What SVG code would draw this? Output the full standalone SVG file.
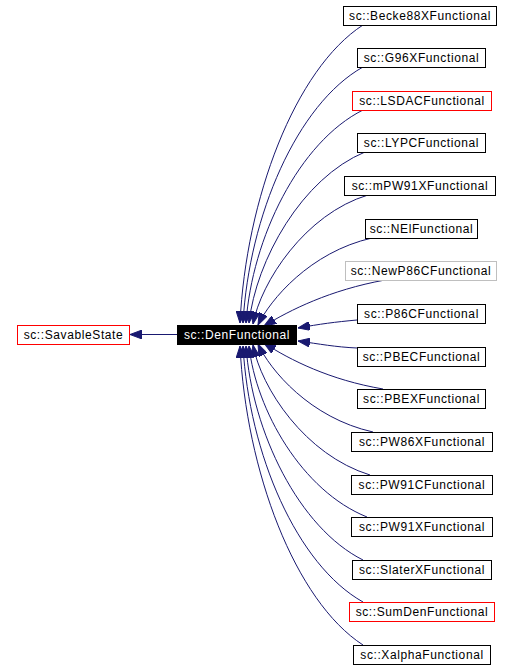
<svg xmlns="http://www.w3.org/2000/svg" width="516" height="670" viewBox="0 0 516 670">
<style>
.bx{fill:#fff;stroke:#000;stroke-width:1}
.red{stroke:#ff0000}
.grey{stroke:#bfbfbf}
.blk{fill:#000;stroke:#000}
text{font-family:"Liberation Sans",Arial,sans-serif;font-size:12px;letter-spacing:0.6px;text-anchor:middle;fill:#000}
.wt{fill:#fff}
.e{fill:none;stroke:#191970;stroke-width:1}
</style>
<defs>
<marker id="ah" viewBox="0 0 12 9" markerWidth="12" markerHeight="9" markerUnits="userSpaceOnUse" refX="12" refY="4.5" orient="auto">
<path d="M0,0 L12,4.5 L0,9 z" fill="#191970" stroke="#191970"/>
</marker>
</defs>
<g id="edges">
<path class="e" marker-end="url(#ah)" d="M177,334.5 L130,334.5"/>
<path class="e" marker-end="url(#ah)" d="M363,25 C295,69 246,199 240,323"/>
<path class="e" marker-end="url(#ah)" d="M363,67 C297,104 249,216 243,323"/>
<path class="e" marker-end="url(#ah)" d="M363,110 C299,142 252,238 246,323"/>
<path class="e" marker-end="url(#ah)" d="M365,152 C302,178 256,260 249,323"/>
<path class="e" marker-end="url(#ah)" d="M368,195 C305,214 261,282 253,324"/>
<path class="e" marker-end="url(#ah)" d="M372,238 C310,252 270,300 258,325"/>
<path class="e" marker-end="url(#ah)" d="M385,280 C330,290 290,310 264,326"/>
<path class="e" marker-end="url(#ah)" d="M357,320 C335,322 320,324 298,328"/>
<path class="e" marker-end="url(#ah)" d="M357,348 C335,347 320,344 298,341"/>
<path class="e" marker-end="url(#ah)" d="M383,389 C330,380 290,360 264,343"/>
<path class="e" marker-end="url(#ah)" d="M373,432 C310,418 270,370 258,344"/>
<path class="e" marker-end="url(#ah)" d="M370,475 C305,455 261,388 253,345"/>
<path class="e" marker-end="url(#ah)" d="M367,517 C302,491 256,410 249,346"/>
<path class="e" marker-end="url(#ah)" d="M363,560 C299,528 252,432 246,346"/>
<path class="e" marker-end="url(#ah)" d="M363,602 C297,565 249,454 243,346"/>
<path class="e" marker-end="url(#ah)" d="M363,645 C295,601 246,471 240,346"/>
</g>
<g id="SavableState"><rect class="bx red" x="17.5" y="325.5" width="112" height="19"/><text x="73.5" y="339">sc::SavableState</text></g>
<g id="DenFunctional"><rect class="blk" x="177.5" y="325.5" width="119" height="19"/><text class="wt" x="237" y="339">sc::DenFunctional</text></g>
<g id="Becke88XFunctional"><rect class="bx" x="343.5" y="6.5" width="153" height="19"/><text x="420" y="20">sc::Becke88XFunctional</text></g>
<g id="G96XFunctional"><rect class="bx" x="357.5" y="48.5" width="128" height="19"/><text x="421.5" y="62">sc::G96XFunctional</text></g>
<g id="LSDACFunctional"><rect class="bx red" x="352.5" y="91.5" width="139" height="19"/><text x="422" y="105">sc::LSDACFunctional</text></g>
<g id="LYPCFunctional"><rect class="bx" x="357.5" y="133.5" width="128" height="19"/><text x="421.5" y="147">sc::LYPCFunctional</text></g>
<g id="mPW91XFunctional"><rect class="bx" x="344.5" y="176.5" width="151" height="19"/><text x="420" y="190">sc::mPW91XFunctional</text></g>
<g id="NElFunctional"><rect class="bx" x="365.5" y="219.5" width="112" height="19"/><text x="421.5" y="233">sc::NElFunctional</text></g>
<g id="NewP86CFunctional"><rect class="bx grey" x="345.5" y="261.5" width="151" height="19"/><text x="421" y="275">sc::NewP86CFunctional</text></g>
<g id="P86CFunctional"><rect class="bx" x="357.5" y="304.5" width="128" height="19"/><text x="421.5" y="318">sc::P86CFunctional</text></g>
<g id="PBECFunctional"><rect class="bx" x="357.5" y="347.5" width="128" height="19"/><text x="421.5" y="361">sc::PBECFunctional</text></g>
<g id="PBEXFunctional"><rect class="bx" x="357.5" y="389.5" width="128" height="19"/><text x="421.5" y="403">sc::PBEXFunctional</text></g>
<g id="PW86XFunctional"><rect class="bx" x="351.5" y="432.5" width="141" height="19"/><text x="422" y="446">sc::PW86XFunctional</text></g>
<g id="PW91CFunctional"><rect class="bx" x="351.5" y="475.5" width="141" height="19"/><text x="422" y="489">sc::PW91CFunctional</text></g>
<g id="PW91XFunctional"><rect class="bx" x="351.5" y="517.5" width="141" height="19"/><text x="422" y="531">sc::PW91XFunctional</text></g>
<g id="SlaterXFunctional"><rect class="bx" x="352.5" y="560.5" width="139" height="19"/><text x="422" y="574">sc::SlaterXFunctional</text></g>
<g id="SumDenFunctional"><rect class="bx red" x="349.5" y="602.5" width="145" height="19"/><text x="422" y="616">sc::SumDenFunctional</text></g>
<g id="XalphaFunctional"><rect class="bx" x="353.5" y="645.5" width="137" height="19"/><text x="422" y="659">sc::XalphaFunctional</text></g>
</svg>
